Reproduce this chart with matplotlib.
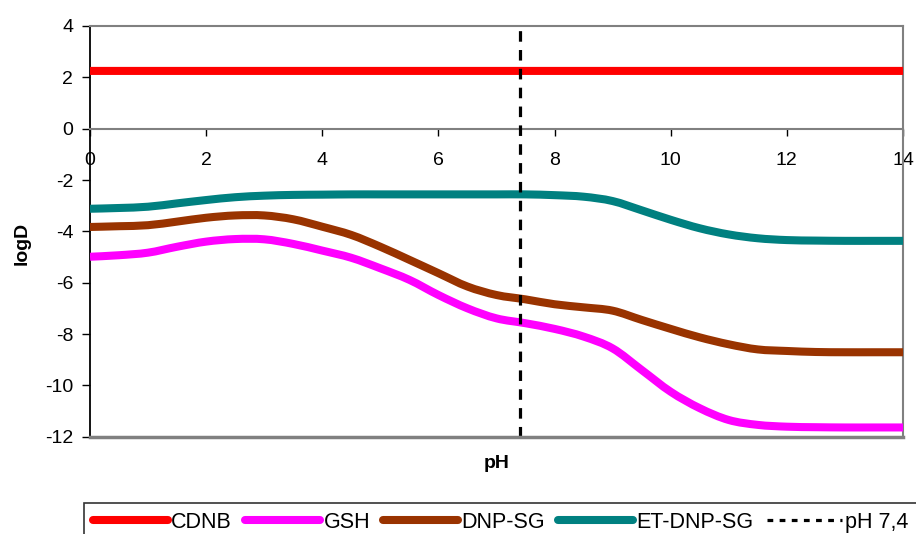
import matplotlib
matplotlib.use("Agg")
import matplotlib.pyplot as plt
from matplotlib.path import Path
from matplotlib.patches import PathPatch
from matplotlib.lines import Line2D

plt.rcParams['font.family'] = ['Liberation Sans', 'DejaVu Sans']
plt.rcParams['axes.unicode_minus'] = False

ph = [0, 0.5, 1, 1.5, 2, 2.5, 3, 3.5, 4, 4.5, 5, 5.5, 6, 6.5, 7, 7.5,
      8, 8.5, 9, 9.5, 10, 10.5, 11, 11.5, 12, 12.5, 13, 13.5, 14]

cdnb = [2.25] * len(ph)

gsh = [-4.99, -4.93, -4.83, -4.60, -4.40, -4.30, -4.31, -4.49, -4.75, -5.03,
       -5.44, -5.89, -6.48, -7.00, -7.39, -7.58, -7.80, -8.10, -8.56, -9.40,
       -10.25, -10.89, -11.35, -11.54, -11.61, -11.63, -11.64, -11.64, -11.64]

dnp_sg = [-3.83, -3.80, -3.76, -3.62, -3.47, -3.38, -3.38, -3.53, -3.82, -4.14,
          -4.60, -5.11, -5.63, -6.15, -6.48, -6.65, -6.84, -6.96, -7.09, -7.45,
          -7.80, -8.13, -8.40, -8.60, -8.66, -8.70, -8.71, -8.71, -8.71]

et_dnp_sg = [-3.12, -3.09, -3.04, -2.91, -2.78, -2.67, -2.61, -2.58, -2.57, -2.56,
             -2.56, -2.56, -2.56, -2.56, -2.56, -2.56, -2.59, -2.65, -2.82, -3.18,
             -3.55, -3.88, -4.12, -4.27, -4.34, -4.36, -4.37, -4.37, -4.37]

ph_ref = 7.4

series_labels = ["CDNB", "GSH", "DNP-SG", "ET-DNP-SG"]
ref_label = "pH 7,4"
x_ticks = [0, 2, 4, 6, 8, 10, 12, 14]
y_ticks = [-12, -10, -8, -6, -4, -2, 0, 2, 4]


def smooth_path(xs, ys):
    """Excel-like smoothed line: Catmull-Rom segments rendered as cubic Beziers."""
    n = len(xs)
    verts = [(xs[0], ys[0])]
    codes = [Path.MOVETO]
    for i in range(n - 1):
        x0, y0 = (xs[i - 1], ys[i - 1]) if i > 0 else (xs[i], ys[i])
        x1, y1 = xs[i], ys[i]
        x2, y2 = xs[i + 1], ys[i + 1]
        x3, y3 = (xs[i + 2], ys[i + 2]) if i + 2 < n else (xs[i + 1], ys[i + 1])
        c1 = (x1 + (x2 - x0) / 6.0, y1 + (y2 - y0) / 6.0)
        c2 = (x2 - (x3 - x1) / 6.0, y2 - (y3 - y1) / 6.0)
        verts += [c1, c2, (x2, y2)]
        codes += [Path.CURVE4] * 3
    return Path(verts, codes)


fig = plt.figure(figsize=(9.16, 5.34), dpi=100)
W, H = 916, 534
ax = fig.add_axes([90 / W, 1 - 436.7 / H, (903 - 90) / W, (436.7 - 26) / H])

lw = 5.8
colors = ["#FF0000", "#FF00FF", "#993300", "#008080"]
handles = []
for ys, c, lab in zip([cdnb, gsh, dnp_sg, et_dnp_sg], colors, series_labels):
    patch = PathPatch(smooth_path(ph, ys), facecolor='none', edgecolor=c,
                      lw=lw, capstyle='butt', joinstyle='round', zorder=3)
    ax.add_patch(patch)
    handles.append(Line2D([], [], color=c, lw=lw, solid_capstyle='round',
                          label=lab))

ax.axvline(ph_ref, color='black', lw=2.3, linestyle=(0, (3.3, 2.6)),
           label=ref_label, zorder=4)
handles.append(Line2D([], [], color='black', lw=2.3,
                      linestyle=(0, (1.8, 2.0)), label=ref_label))

ax.set_xlim(0, 14)
ax.set_ylim(-12, 4)
ax.set_xticks(x_ticks)
ax.set_yticks(y_ticks)

gray = '#808080'
ax.spines['left'].set_color('black')
ax.spines['left'].set_linewidth(1.3)
ax.spines['bottom'].set_position(('data', 0))
ax.spines['bottom'].set_color(gray)
ax.spines['bottom'].set_linewidth(1.5)
for s in ['top', 'right']:
    ax.spines[s].set_color(gray)
    ax.spines[s].set_linewidth(1.5)
ax.plot([0, 1], [0, 0], transform=ax.transAxes, color=gray, lw=2.5,
        clip_on=False, zorder=5)

ax.tick_params(axis='x', direction='out', length=5, width=1, color='black',
               pad=12, labelsize=14)
ax.tick_params(axis='y', direction='out', length=6, width=1, color='black',
               pad=6, labelsize=14)

fig.text(497 / W, 1 - 463 / H, "pH", ha='center', va='center',
         fontsize=14, fontweight='bold')
fig.text(22 / W, 1 - 243 / H, "logD", ha='center', va='center',
         rotation=90, fontsize=14, fontweight='bold')

leg = fig.legend(handles=handles, loc='upper left',
                 bbox_to_anchor=(84 / W, 1 - 503 / H), ncol=5,
                 fontsize=15.5, frameon=True, fancybox=False,
                 handlelength=3.5, handletextpad=0.15, columnspacing=0.6,
                 borderpad=0.4, borderaxespad=0)
leg.get_frame().set_edgecolor('black')
leg.get_frame().set_linewidth(1.2)

fig.savefig("out.png", dpi=100)
